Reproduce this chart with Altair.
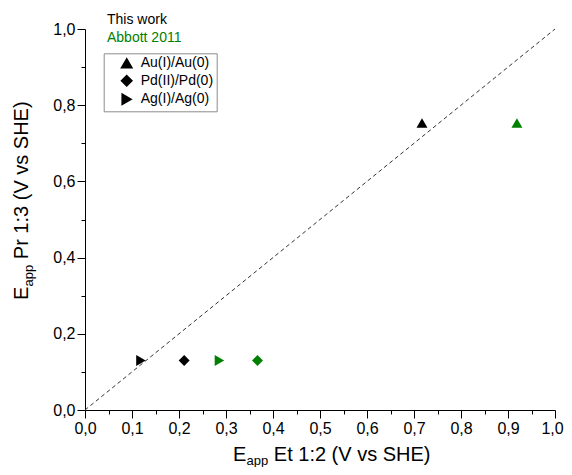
import altair as alt
import pandas as pd

# ---- data ----
couples = ["Au(I)/Au(0)", "Pd(II)/Pd(0)", "Ag(I)/Ag(0)"]
shapes = ["triangle-up", "diamond", "triangle-right"]
sources = ["This work", "Abbott 2011"]
source_colors = ["#000000", "#008000"]

this_work_x = [0.717, 0.211, 0.119]
this_work_y = [0.753, 0.130, 0.130]
abbott_x = [0.919, 0.367, 0.286]
abbott_y = [0.753, 0.130, 0.130]

diag_x = [0.0, 1.0]
diag_y = [0.0, 1.0]

x_ticks = [round(i * 0.05, 2) for i in range(21)]
y_ticks = [round(i * 0.1, 1) for i in range(11)]

rows = []
for c, x, y in zip(couples, this_work_x, this_work_y):
    rows.append({"couple": c, "source": sources[0], "x": x, "y": y})
for c, x, y in zip(couples, abbott_x, abbott_y):
    rows.append({"couple": c, "source": sources[1], "x": x, "y": y})
df = pd.DataFrame(rows)
df_diag = pd.DataFrame({"x": diag_x, "y": diag_y})

FONT = "Liberation Sans"
W, H = 470, 381

xscale = alt.Scale(domain=[0, 1], nice=False, zero=False)
yscale = alt.Scale(domain=[0, 1], nice=False, zero=False)

x_axis = alt.Axis(
    values=x_ticks,
    title=None,
    grid=False,
    domainColor="black",
    tickColor="black",
    tickSize=alt.expr("round(datum.value*100) % 10 == 0 ? 8 : 4"),
    labelExpr="round(datum.value*100) % 10 == 0 ? replace(format(datum.value, '.1f'), '.', ',') : ''",
    labelOffset=alt.expr("datum.value >= 0.999 ? -3 : 0"),
    labelFont=FONT,
    labelFontSize=16,
    labelColor="black",
    labelPadding=2,
    labelOverlap=False,
    labelFlush=False,
    labelBound=False,
)
y_axis = alt.Axis(
    values=y_ticks,
    title=None,
    grid=False,
    domainColor="black",
    tickColor="black",
    tickSize=alt.expr("round(datum.value*10) % 2 == 0 ? 8 : 4"),
    labelExpr="round(datum.value*10) % 2 == 0 ? replace(format(datum.value, '.1f'), '.', ',') : ''",
    labelFont=FONT,
    labelFontSize=16,
    labelColor="black",
    labelPadding=2,
    labelOverlap=False,
    labelFlush=False,
    labelBound=False,
)

color_scale = alt.Scale(domain=sources, range=source_colors)

diag = alt.Chart(df_diag).mark_line(
    color="#333333", strokeDash=[4, 3], strokeWidth=1
).encode(
    x=alt.X("x:Q", scale=xscale, axis=x_axis),
    y=alt.Y("y:Q", scale=yscale, axis=y_axis),
)

points = alt.Chart(df).mark_point(filled=True, size=120, opacity=1).encode(
    x=alt.X("x:Q", scale=xscale, axis=x_axis),
    y=alt.Y("y:Q", scale=yscale, axis=y_axis),
    color=alt.Color("source:N", scale=color_scale, legend=None),
    shape=alt.Shape(
        "couple:N",
        scale=alt.Scale(domain=couples, range=shapes),
        legend=alt.Legend(
            title=None,
            orient="none",
            legendX=18.7,
            legendY=24.3,
            padding=3,
            strokeColor="#8c8c8c",
            symbolFillColor="black",
            symbolStrokeColor="black",
            symbolSize=110,
            symbolOffset=13,
            labelOffset=7,
            labelFont=FONT,
            labelFontSize=14,
            labelColor="black",
            rowPadding=0.5,
        ),
    ),
)

# series-name captions above the legend
src_layers = []
for i, s in enumerate(sources):
    src_layers.append(
        alt.Chart(pd.DataFrame({"source": [s]})).mark_text(
            align="left", baseline="alphabetic", font=FONT, fontSize=14
        ).encode(
            x=alt.value(22),
            y=alt.value(-5 + 18 * i),
            text="source:N",
            color=alt.Color("source:N", scale=color_scale, legend=None),
        )
    )

# axis titles with subscript (SVG drops leading spaces, so gaps are offsets)
def title_parts(parts, rotate=False):
    layers = []
    for txt, size, px, py in parts:
        layers.append(
            alt.Chart(pd.DataFrame({"t": [txt]})).mark_text(
                align="left", baseline="alphabetic", font=FONT, fontSize=size,
                color="black", angle=270 if rotate else 0,
            ).encode(text="t:N", x=alt.value(px), y=alt.value(py))
        )
    return layers

x_title = title_parts([
    ("E", 20, 148, 432),
    ("app", 13, 161.5, 435.5),
    ("Et 1:2 (V vs SHE)", 20, 188.8, 432),
])
y_title = title_parts([
    ("E", 20, -57, 271),
    ("app", 13, -52, 257.5),
    ("Pr 1:3 (V vs SHE)", 20, -57, 230.2),
], rotate=True)

chart = alt.layer(diag, points, *src_layers, *x_title, *y_title).properties(
    width=W,
    height=H,
    autosize=alt.AutoSizeParams(type="none"),
    padding={"left": 77, "top": 21, "right": 9, "bottom": 57},
).configure_view(stroke=None).configure_axis(domainWidth=1, tickWidth=1)

chart.save("out.html", embed_options={"renderer": "svg", "actions": False})
